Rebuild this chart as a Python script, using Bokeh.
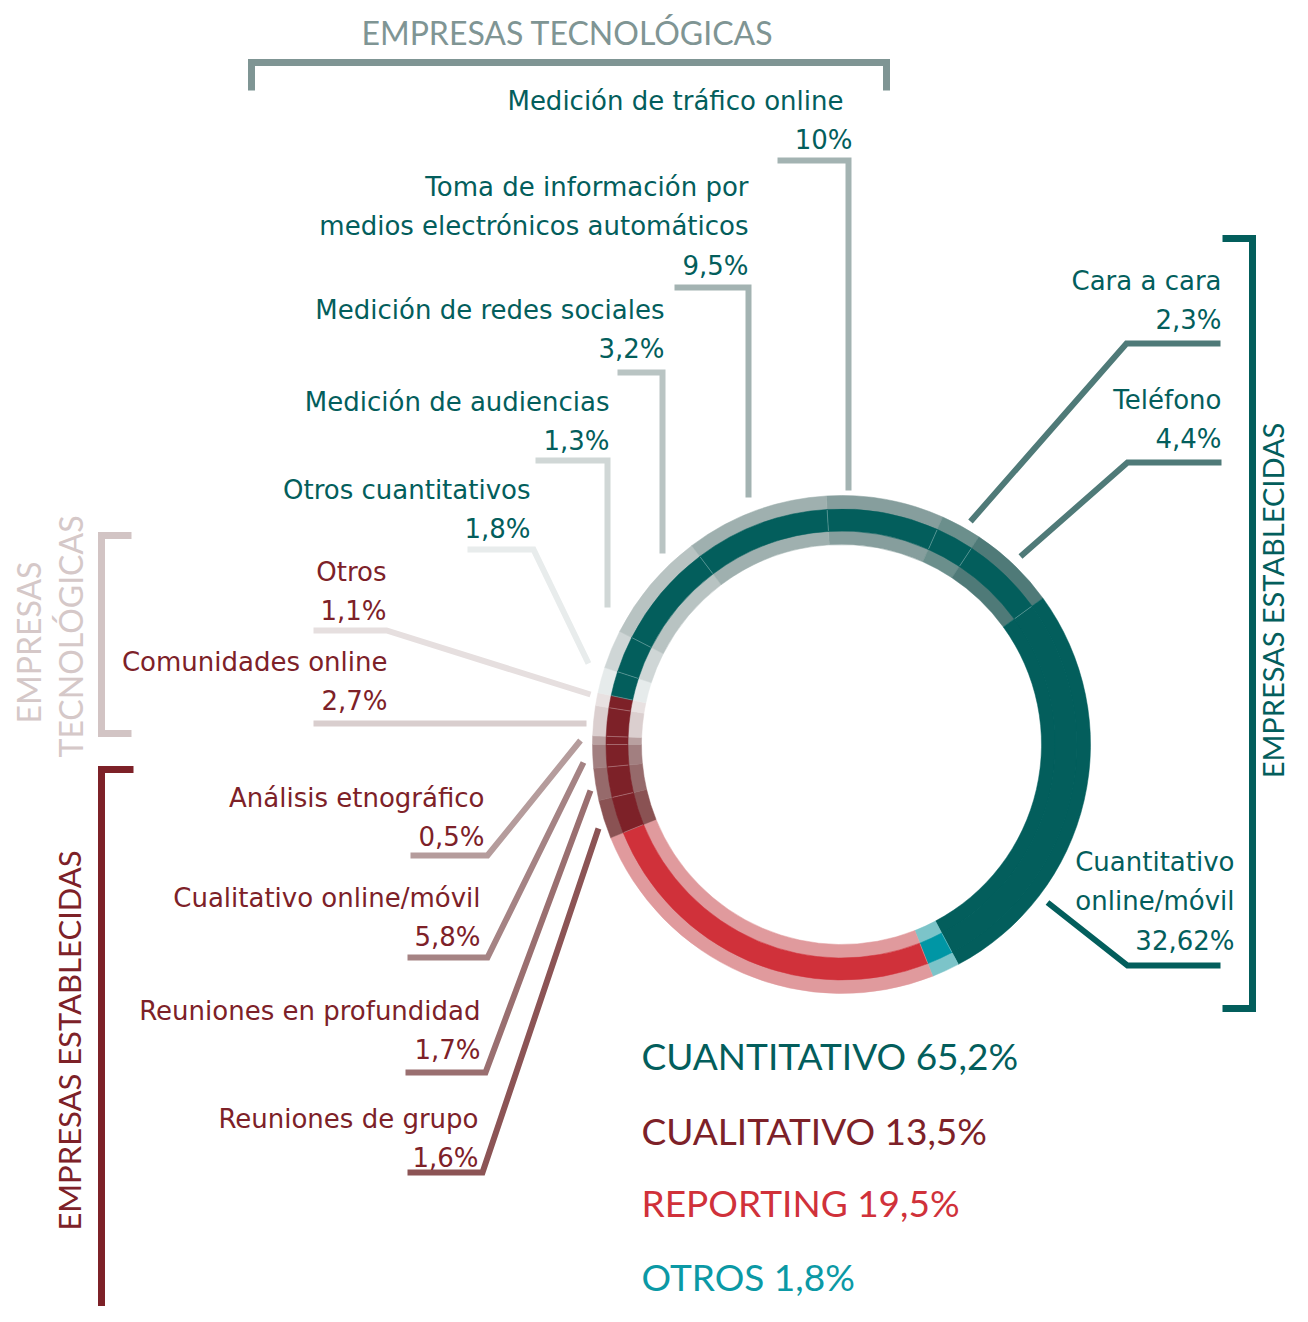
import numpy as np
from bokeh.plotting import figure
from bokeh.models import Range1d
from bokeh.core.properties import value
from bokeh.embed import file_html
from bokeh.resources import INLINE

# ---------------- data ----------------
segments = ["Medición de tráfico online", "Cara a cara", "Teléfono", "Cuantitativo online/móvil",
            "Otros", "Reporting", "Reuniones de grupo", "Reuniones en profundidad",
            "Cualitativo online/móvil", "Análisis etnográfico", "Comunidades online", "Otros cualitativo",
            "Otros cuantitativos", "Medición de audiencias", "Medición de redes sociales",
            "Toma de información por medios electrónicos automáticos"]
segment_pct = [10, 2.3, 4.4, 32.62, 1.8, 19.5, 1.6, 1.7, 5.8, 0.5, 2.7, 1.1, 1.8, 1.3, 3.2, 9.5]
segment_group = ["CUANTITATIVO"] * 4 + ["OTROS", "REPORTING"] + ["CUALITATIVO"] * 6 + ["CUANTITATIVO"] * 4
# angular size of every segment as drawn in the original ring (degrees)
arc_deg = [27.5, 9.5, 20.5, 98, 6.5, 89.5, 9, 7.5, 5.5, 2, 7, 3, 6, 9, 26, 33.5]

category_names = ["CUANTITATIVO", "CUALITATIVO", "REPORTING", "OTROS"]
category_pct = [65.2, 13.5, 19.5, 1.8]

# ---------------- styles ----------------
TEAL = "#035e5c"
WINE = "#7d2128"
RED = "#d0313a"
CYAN = "#0b99a5"
group_color = {"CUANTITATIVO": TEAL, "CUALITATIVO": WINE, "REPORTING": RED, "OTROS": "#0096a5"}
band_colors = ["#869e9d", "#6b8f8c", "#4f7a78", TEAL, "#7cc4c9", "#e09a9d", "#8a5253", "#966a6b",
               "#a27f80", "#b9a0a0", "#dbcfcf", "#e8e1e1", "#e6ebeb", "#cfd6d6", "#b8c3c2", "#9fb0af"]
legend_colors = [TEAL, WINE, RED, CYAN]

H = 1322
def Y(v):
    return H - v

LABEL_FONT = value("DejaVu Sans")
CAPS_FONT = value("Lato")

p = figure(width=1292, height=1306, output_backend="svg", toolbar_location=None,
           x_range=Range1d(0, 1292), y_range=Range1d(16, 1322),
           x_axis_type=None, y_axis_type=None, min_border=0)
p.outline_line_color = None
p.grid.visible = False
p.background_fill_color = "white"

# ---------------- ring ----------------
cx, cy = 841, Y(744)
theta0 = -3.5
arc = np.array(arc_deg, dtype=float)
t_end = theta0 + np.cumsum(arc)
t_start = t_end - arc
start = np.radians(90 - t_end)
end = np.radians(90 - t_start)
mid_cols = [group_color[g] for g in segment_group]

p.annular_wedge(x=cx, y=cy, inner_radius=235, outer_radius=249, start_angle=start, end_angle=end,
                fill_color=band_colors, line_color=band_colors, line_width=0.5)
p.annular_wedge(x=cx, y=cy, inner_radius=200, outer_radius=214, start_angle=start, end_angle=end,
                fill_color=band_colors, line_color=band_colors, line_width=0.5)
p.annular_wedge(x=cx, y=cy, inner_radius=213.5, outer_radius=235.5, start_angle=start, end_angle=end,
                fill_color=mid_cols, line_color=mid_cols, line_width=0.5)
# faint radial separators in the middle band
sep_t = np.radians(90 - t_start)
p.segment(x0=cx + 214 * np.cos(sep_t), y0=cy + 214 * np.sin(sep_t),
          x1=cx + 235 * np.cos(sep_t), y1=cy + 235 * np.sin(sep_t),
          line_color="white", line_alpha=0.35, line_width=0.8)

# ---------------- labels ----------------
def fmt(v):
    return ("%g" % v).replace(".", ",") + "%"

# layout: segment index -> (name lines, right x, first line centre y, pct right x, leader path, leader colour)
layout = {
    0: (["Medición de tráfico online"], 843, 100, 852,
        [(777, 160), (848, 160), (848, 490)], "#a3b3b2"),
    15: (["Toma de información por", "medios electrónicos automáticos"], 748, 186, 748,
         [(674, 287), (748, 287), (748, 497)], "#a3b3b2"),
    14: (["Medición de redes sociales"], 664, 309, 664,
         [(617, 372), (662, 372), (662, 553)], "#b9c4c3"),
    13: (["Medición de audiencias"], 609, 401, 609,
         [(535, 460), (607, 460), (607, 607)], "#d0d7d6"),
    12: (["Otros cuantitativos"], 530, 489, 530,
         [(467, 549), (533, 549), (588, 663)], "#e8ecec"),
    11: (["Otros"], 386, 571, 386,
         [(313, 630), (386, 630), (590, 694)], "#e6dfdf"),
    10: (["Comunidades online"], 387, 661, 387,
         [(313, 723), (586, 723)], "#d9cece"),
    9: (["Análisis etnográfico"], 484, 797, 484,
        [(410, 855), (487, 855), (580, 740)], "#b59c9c"),
    8: (["Cualitativo online/móvil"], 480, 897, 480,
        [(407, 957), (487, 957), (583, 762)], "#a58384"),
    7: (["Reuniones en profundidad"], 480, 1010, 480,
        [(405, 1072), (485, 1072), (590, 790)], "#9a6f70"),
    6: (["Reuniones de grupo"], 478, 1118, 478,
        [(407, 1172), (482, 1172), (598, 828)], "#8c5455"),
    1: (["Cara a cara"], 1221, 280, 1221,
        [(1220, 343), (1126, 343), (970, 521)], "#4f7a78"),
    2: (["Teléfono"], 1221, 399, 1221,
        [(1221, 462), (1127, 462), (1020, 556)], "#4f7a78"),
    3: (["Cuantitativo", "online/móvil"], 1234, 861, 1234,
        [(1220, 965), (1127, 965), (1047, 902)], TEAL),
}
LS = 39.5
tx, ty, tt, tc = [], [], [], []
lxs, lys, lcs = [], [], []
for i, (lines, xr, y0, xp, path, lc) in layout.items():
    col = WINE if segment_group[i] == "CUALITATIVO" else TEAL
    for k, ln in enumerate(lines):
        tx.append(xr); ty.append(Y(y0 + k * LS)); tt.append(ln); tc.append(col)
    tx.append(xp); ty.append(Y(y0 + len(lines) * LS)); tt.append(fmt(segment_pct[i])); tc.append(col)
    lxs.append([q[0] for q in path]); lys.append([Y(q[1]) for q in path]); lcs.append(lc)

p.multi_line(xs=lxs, ys=lys, line_color=lcs, line_width=6, line_join="miter", line_cap="butt")
p.text(x=tx, y=ty, text=tt, text_color=tc, text_align="right", text_baseline="middle",
       text_font=LABEL_FONT, text_font_size="26px")

# ---------------- brackets ----------------
brackets = [
    ([(251, 90), (251, 62), (886, 62), (886, 90)], "#7f9594"),
    ([(131, 535), (101, 535), (101, 733), (131, 733)], "#d2c4c4"),
    ([(133, 769), (101, 769), (101, 1319), (133, 1319)], WINE),
    ([(1222, 238), (1252, 238), (1252, 1008), (1222, 1008)], TEAL),
]
p.multi_line(xs=[[q[0] for q in b] for b, _ in brackets], ys=[[Y(q[1]) for q in b] for b, _ in brackets],
             line_color=[c for _, c in brackets], line_width=7, line_join="miter", line_cap="butt")

p.text(x=[567], y=[Y(32)], text=["EMPRESAS TECNOLÓGICAS"], text_color="#7f9594",
       text_align="center", text_baseline="middle", text_font=CAPS_FONT, text_font_size="32px")
p.text(x=[28, 70], y=[Y(642), Y(636)], text=["EMPRESAS", "TECNOLÓGICAS"], text_color="#d5c8c8",
       text_align="center", text_baseline="middle", text_font=CAPS_FONT, text_font_size="32px", angle=np.pi / 2)
p.text(x=[68], y=[Y(1040)], text=["EMPRESAS ESTABLECIDAS"], text_color=WINE,
       text_align="center", text_baseline="middle", text_font=CAPS_FONT, text_font_size="31px", angle=np.pi / 2)
p.text(x=[1272], y=[Y(600)], text=["EMPRESAS ESTABLECIDAS"], text_color=TEAL,
       text_align="center", text_baseline="middle", text_font=CAPS_FONT, text_font_size="29px", angle=np.pi / 2)

# ---------------- category legend ----------------
leg_y = [1055, 1130, 1202, 1276]
p.text(x=[641] * 4, y=[Y(v) for v in leg_y],
       text=[f"{n} {fmt(v)}" for n, v in zip(category_names, category_pct)],
       text_color=legend_colors, text_align="left", text_baseline="middle",
       text_font=CAPS_FONT, text_font_size="37px")

open("out.html", "w").write(file_html(p, INLINE))
